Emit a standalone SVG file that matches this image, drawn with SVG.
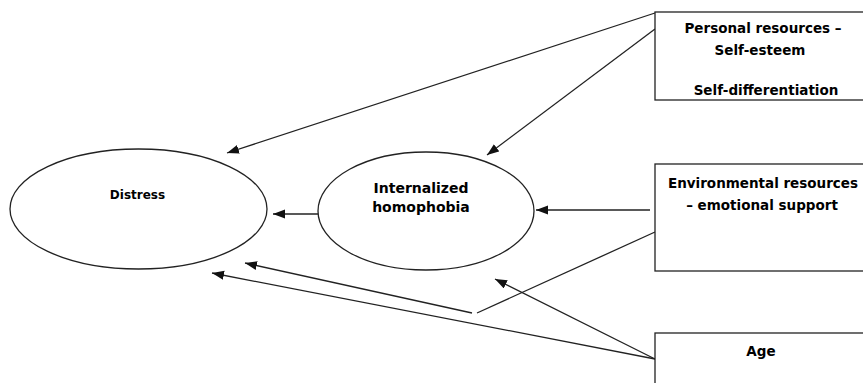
<svg xmlns="http://www.w3.org/2000/svg" width="863" height="383" viewBox="0 0 863 383">
<style>
  .shape{fill:#fff;stroke:#222;stroke-width:1.3}
  .edge{fill:none;stroke:#222;stroke-width:1.3}
  text{font-family:"DejaVu Sans","Liberation Sans",sans-serif;font-weight:bold;fill:#000;text-anchor:middle}
  .box{font-size:13.5px}
</style>
<defs>
  <marker id="arr" markerUnits="userSpaceOnUse" markerWidth="13" markerHeight="10" refX="12" refY="4.5" orient="auto">
    <path d="M0,0 L12,4.5 L0,9 z" fill="#111"/>
  </marker>
</defs>
<rect width="863" height="383" fill="#fff"/>
<g id="connectors">
  <line class="edge" x1="655" y1="13" x2="227" y2="153" marker-end="url(#arr)"/>
  <line class="edge" x1="655" y1="29" x2="487" y2="155" marker-end="url(#arr)"/>
  <line class="edge" x1="318" y1="214" x2="273" y2="214" marker-end="url(#arr)"/>
  <line class="edge" x1="650" y1="210" x2="536" y2="210" marker-end="url(#arr)"/>
  <line class="edge" x1="655" y1="232" x2="477" y2="313"/>
  <line class="edge" x1="472" y1="313" x2="245" y2="263" marker-end="url(#arr)"/>
  <line class="edge" x1="655" y1="359" x2="495" y2="279" marker-end="url(#arr)"/>
  <line class="edge" x1="655" y1="359" x2="212" y2="273" marker-end="url(#arr)"/>
</g>
<g id="distress">
  <ellipse class="shape" cx="138.5" cy="209" rx="128.5" ry="60"/>
  <text x="137.5" y="199" font-size="12">Distress</text>
</g>
<g id="internalized">
  <ellipse class="shape" cx="426" cy="211" rx="108" ry="59"/>
  <text x="421" y="193" font-size="14">Internalized</text>
  <text x="421" y="212" font-size="14">homophobia</text>
</g>
<g id="personal">
  <rect class="shape" x="655" y="12" width="215" height="88"/>
  <text class="box" x="763" y="33">Personal resources –</text>
  <text class="box" x="760" y="55">Self-esteem</text>
  <text class="box" x="766" y="95">Self-differentiation</text>
</g>
<g id="environmental">
  <rect class="shape" x="655" y="164" width="215" height="107"/>
  <text class="box" x="763" y="188">Environmental resources</text>
  <text class="box" x="762" y="210">– emotional support</text>
</g>
<g id="age">
  <rect class="shape" x="655" y="333" width="215" height="60"/>
  <text class="box" x="761" y="356" font-size="13">Age</text>
</g>
</svg>
